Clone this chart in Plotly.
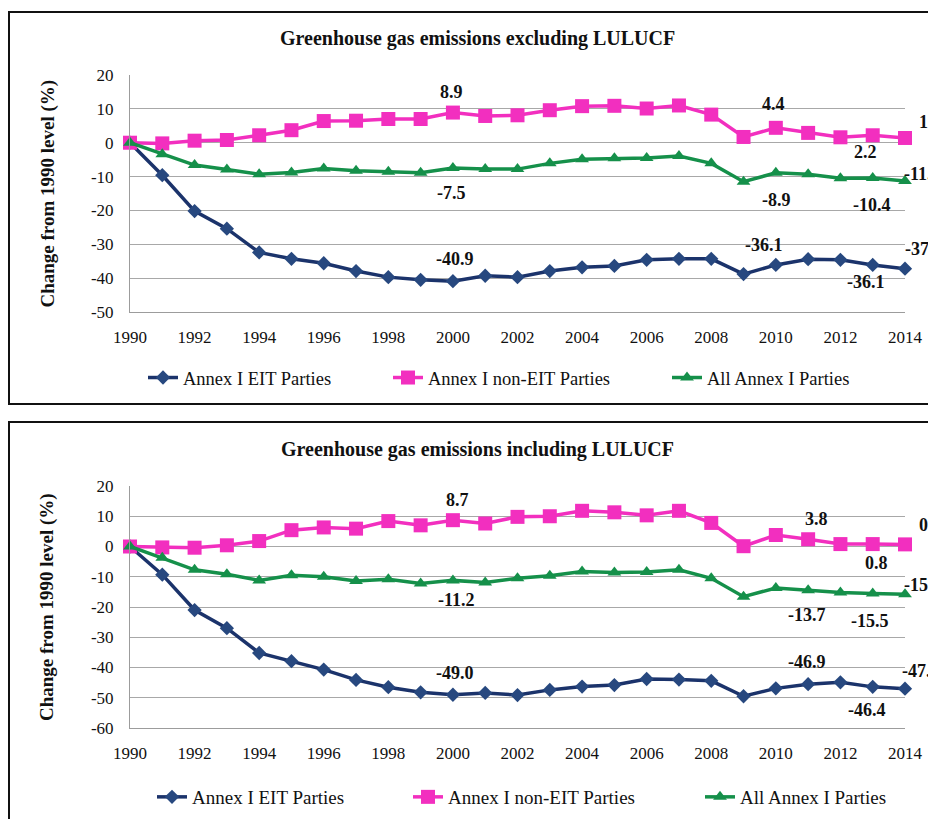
import plotly.graph_objects as go

# Data: change from 1990 level (%)
years = list(range(1990, 2015))

eit_excl = [0, -9.6, -20.2, -25.4, -32.4, -34.3, -35.6, -37.9, -39.7, -40.5, -40.9, -39.3, -39.7,
            -37.9, -36.8, -36.4, -34.6, -34.3, -34.3, -38.8, -36.1, -34.4, -34.6, -36.1, -37.2]
non_eit_excl = [0, -0.2, 0.6, 0.8, 2.2, 3.7, 6.4, 6.5, 7.0, 7.0, 8.9, 7.9, 8.1,
                9.6, 10.8, 10.9, 10.1, 11.0, 8.3, 1.7, 4.4, 2.9, 1.6, 2.2, 1.4]
all_excl = [0, -3.4, -6.6, -7.9, -9.3, -8.8, -7.6, -8.3, -8.6, -8.9, -7.5, -7.8, -7.8,
            -6.1, -4.9, -4.6, -4.5, -3.9, -6.1, -11.5, -8.9, -9.3, -10.5, -10.4, -11.3]

eit_incl = [0, -9.3, -21.0, -27.0, -35.2, -37.9, -40.7, -44.1, -46.5, -48.2, -49.0, -48.4, -49.1,
            -47.4, -46.3, -45.8, -43.8, -44.0, -44.4, -49.5, -46.9, -45.5, -44.9, -46.4, -47.0]
non_eit_incl = [0, -0.3, -0.4, 0.4, 1.8, 5.4, 6.3, 5.9, 8.4, 7.0, 8.7, 7.6, 9.8,
                10.0, 11.8, 11.3, 10.3, 11.8, 7.8, 0.1, 3.8, 2.4, 0.8, 0.8, 0.7]
all_incl = [0, -3.7, -7.7, -9.2, -11.2, -9.5, -10.0, -11.4, -10.8, -12.2, -11.2, -11.9, -10.5,
            -9.7, -8.3, -8.6, -8.4, -7.7, -10.5, -16.6, -13.7, -14.5, -15.2, -15.5, -15.8]

series_names = ['Annex I EIT Parties', 'Annex I non-EIT Parties', 'All Annex I Parties']
titles = ['Greenhouse gas emissions excluding LULUCF', 'Greenhouse gas emissions including LULUCF']
y_title = 'Change from 1990 level (%)'
labelled_years = [2000, 2010, 2013, 2014]
x_ticks = list(range(1990, 2015, 2))
y_ticks_top = [20, 10, 0, -10, -20, -30, -40, -50]
y_ticks_bottom = [20, 10, 0, -10, -20, -30, -40, -50, -60]

# the page body has an 8px margin, so the figure is 8px smaller and everything is
# positioned in reference pixels minus that offset
OFF = 8
W, H = 936 - OFF, 819 - OFF
FONT = 'Liberation Serif, Times New Roman, serif'
line_colors = ['#1b336b', '#f22fbf', '#15904a']
marker_colors = ['#27487f', '#f22fbf', '#15904a']
symbols = ['diamond', 'square', 'triangle-up']
marker_sizes = [11, 14, 12]


def px_x(p):
    return (p - OFF) / W


def px_y(p):
    return 1 - (p - OFF) / H


fig = go.Figure()

# Panel geometry in reference pixels
panels = [
    dict(top=75, bottom=312, yr=[-50, 20], yt=y_ticks_top, title_y=38, legend_y=378,
         leg_x=[143, 388, 667], leg_size=18.5, data=[eit_excl, non_eit_excl, all_excl]),
    dict(top=486, bottom=728, yr=[-60, 20], yt=y_ticks_bottom, title_y=449, legend_y=797,
         leg_x=[152, 408, 700], leg_size=19, data=[eit_incl, non_eit_incl, all_incl]),
]

# Label offsets (dx, dy in pixels, anchor) per panel, series, labelled year
label_pos = [
    [
        {2000: (2, -22, 'center'), 2010: (-12, -20, 'center'), 2013: (-7, 17, 'center'), 2014: (-2, -20, 'left')},
        {2000: (-1, -21, 'center'), 2010: (-2, -24, 'center'), 2013: (-7, 17, 'center'), 2014: (12, -16, 'left')},
        {2000: (-1, 25, 'center'), 2010: (1, 27, 'center'), 2013: (-1, 27, 'center'), 2014: (-3, -7, 'left')},
    ],
    [
        {2000: (2, -22, 'center'), 2010: (31, -26, 'center'), 2013: (-6, 23, 'center'), 2014: (-5, -18, 'left')},
        {2000: (5, -20, 'center'), 2010: (41, -16, 'center'), 2013: (4, 19, 'center'), 2014: (12, -19, 'left')},
        {2000: (4, 20, 'center'), 2010: (31, 27, 'center'), 2013: (-3, 28, 'center'), 2014: (-3, -9, 'left')},
    ],
]

annotations = []
shapes = []
leg_n = 0
for p, panel in enumerate(panels):
    xa = 'x' if p == 0 else 'x2'
    ya = 'y' if p == 0 else 'y2'
    for s in range(3):
        leg_n += 1
        leg_key = 'legend' if leg_n == 1 else 'legend%d' % leg_n
        fig.add_trace(go.Scatter(
            x=years, y=panel['data'][s], name=series_names[s], mode='lines+markers',
            line=dict(color=line_colors[s], width=3.5),
            marker=dict(symbol=symbols[s], size=marker_sizes[s], color=marker_colors[s]),
            xaxis=xa, yaxis=ya, legend=leg_key, cliponaxis=False))
        fig.layout[leg_key] = dict(
            x=px_x(panel['leg_x'][s]), y=px_y(panel['legend_y']),
            xanchor='left', yanchor='middle', orientation='h', bgcolor='rgba(0,0,0,0)',
            font=dict(family=FONT, size=panel['leg_size'], color='#111'))
        # data labels
        for yr in labelled_years:
            dx, dy, anchor = label_pos[p][s][yr]
            v = panel['data'][s][years.index(yr)]
            annotations.append(dict(
                x=yr, y=v, xref=xa, yref=ya, text='%.1f' % v, showarrow=False,
                xshift=dx, yshift=-dy, xanchor=anchor, yanchor='middle',
                font=dict(family=FONT, size=18, color='#111', weight='bold')))

    dom_y = [px_y(panel['bottom']), px_y(panel['top'])]
    axis_key = '' if p == 0 else '2'
    fig.layout['xaxis' + axis_key] = dict(
        domain=[px_x(130), px_x(905)], range=[1990, 2014],
        tickvals=x_ticks, ticktext=[str(t) for t in x_ticks],
        anchor=ya, automargin=False, showgrid=False, zeroline=False,
        showline=True, linecolor='#9c9c9c', linewidth=1,
        ticks='', ticklabelstandoff=10, tickfont=dict(family=FONT, size=17, color='#111'))
    fig.layout['yaxis' + axis_key] = dict(
        domain=dom_y, range=panel['yr'], anchor=xa, automargin=False,
        tickvals=panel['yt'], ticktext=[str(t) for t in panel['yt']],
        showgrid=True, gridcolor='#a8a8a8', gridwidth=1, zeroline=False,
        showline=True, linecolor='#9c9c9c', linewidth=1,
        ticks='', ticklabelstandoff=12, tickfont=dict(family=FONT, size=17, color='#111'))

    # chart title and rotated y title
    annotations.append(dict(
        x=px_x(477), y=px_y(panel['title_y']), xref='paper', yref='paper', text=titles[p],
        showarrow=False, xanchor='center', yanchor='middle',
        font=dict(family=FONT, size=20, color='#111', weight='bold')))
    annotations.append(dict(
        x=px_x(47), y=px_y((panel['top'] + panel['bottom']) / 2), xref='paper', yref='paper',
        text=y_title, textangle=-90, showarrow=False, xanchor='center', yanchor='middle',
        font=dict(family=FONT, size=19, color='#111', weight='bold')))

# chart frames (right / bottom edges run off the picture)
shapes.append(dict(type='rect', xref='paper', yref='paper', x0=px_x(9), x1=1.05,
                   y0=px_y(404), y1=px_y(12), line=dict(color='#111', width=2)))
shapes.append(dict(type='rect', xref='paper', yref='paper', x0=px_x(9), x1=1.05,
                   y0=-0.05, y1=px_y(422), line=dict(color='#111', width=2)))

fig.update_layout(
    width=W, height=H, margin=dict(l=0, r=0, t=0, b=0, autoexpand=False),
    font=dict(family=FONT, color='#111'),
    paper_bgcolor='white', plot_bgcolor='white', showlegend=True,
    annotations=annotations, shapes=shapes)

fig.write_html("out.html")
